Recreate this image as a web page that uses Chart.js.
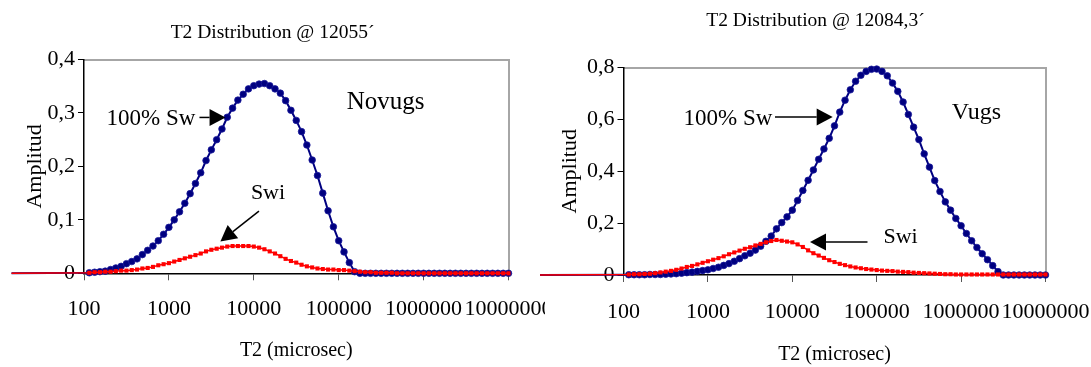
<!DOCTYPE html>
<html>
<head>
<meta charset="utf-8">
<script src="https://cdn.jsdelivr.net/npm/chart.js@4.4.1/dist/chart.umd.min.js"></script>
<style>
  html, body { margin: 0; padding: 0; background: #ffffff; }
  #wrap { position: relative; width: 1091px; height: 367px; overflow: hidden; background: #ffffff; }
  #boxL { position: absolute; left: 0; top: 0; width: 545px; height: 367px; }
  #boxR { position: absolute; left: 540px; top: 0; width: 551px; height: 367px; }
</style>
</head>
<body>
<div id="wrap">
  <div id="boxL"><canvas id="cL" width="545" height="367"></canvas></div>
  <div id="boxR"><canvas id="cR" width="551" height="367"></canvas></div>
</div>
<script>
// ---------- DATA ----------
const t2Bins = [
  115.5,133.4,154,177.8,205.4,237.1,273.8,316.2,365.2,421.7,487,562.3,649.4,749.9,866,1000,
  1155,1334,1540,1778,2054,2371,2738,3162,3652,4217,4870,5623,6494,7499,8660,10000,
  11550,13340,15400,17780,20540,23710,27380,31620,36520,42170,48700,56230,64940,74990,86600,100000,
  115500,133400,154000,177800,205400,237100,273800,316200,365200,421700,487000,562300,649400,749900,866000,1000000,
  1155000,1334000,1540000,1778000,2054000,2371000,2738000,3162000,3652000,4217000,4870000,5623000,6494000,7499000,8660000,10000000
];

const novugsSw100 = [
  0.001,0.002,0.003,0.004,0.007,0.010,0.013,0.018,0.022,0.027,0.035,0.043,0.051,0.061,0.073,0.086,
  0.100,0.115,0.131,0.149,0.168,0.188,0.211,0.231,0.250,0.270,0.292,0.309,0.324,0.335,0.345,0.351,
  0.354,0.355,0.351,0.345,0.337,0.323,0.305,0.286,0.265,0.240,0.212,0.183,0.150,0.117,0.087,0.061,
  0.040,0.020,0.003,0,0,0,0,0,0,0,0,0,0,0,0,0,
  0,0,0,0,0,0,0,0,0,0,0,0,0,0,0,0
];
const novugsSwi = [
  0.001,0.002,0.002,0.003,0.003,0.004,0.005,0.005,0.006,0.007,0.009,0.010,0.012,0.015,0.017,0.019,
  0.022,0.025,0.028,0.031,0.034,0.037,0.041,0.044,0.046,0.048,0.050,0.051,0.051,0.051,0.051,0.050,
  0.048,0.045,0.041,0.037,0.032,0.027,0.023,0.020,0.016,0.013,0.011,0.009,0.008,0.007,0.007,0.006,
  0.006,0.005,0.004,0.003,0.002,0.002,0.001,0.001,0.001,0.001,0,0,0,0,0,0,
  0,0,0,0,0,0,0,0,0,0,0,0,0,0,0,0
];
const vugsSw100 = [
  0.001,0.001,0.001,0.001,0.002,0.002,0.002,0.003,0.004,0.005,0.007,0.009,0.011,0.014,0.017,0.020,
  0.025,0.030,0.037,0.044,0.053,0.063,0.074,0.084,0.096,0.111,0.130,0.150,0.178,0.202,0.224,0.250,
  0.287,0.326,0.365,0.405,0.446,0.486,0.527,0.575,0.628,0.674,0.714,0.747,0.770,0.785,0.793,0.794,
  0.785,0.768,0.740,0.708,0.667,0.619,0.570,0.522,0.467,0.416,0.364,0.322,0.282,0.250,0.218,0.190,
  0.160,0.132,0.106,0.082,0.059,0.036,0.013,0,0,0,0,0,0,0,0,0
];
const vugsSwi = [
  0.002,0.003,0.003,0.004,0.005,0.007,0.010,0.013,0.016,0.020,0.025,0.031,0.035,0.041,0.047,0.053,
  0.059,0.065,0.072,0.080,0.087,0.094,0.101,0.107,0.114,0.120,0.126,0.131,0.135,0.132,0.129,0.126,
  0.118,0.108,0.095,0.084,0.075,0.066,0.057,0.050,0.043,0.038,0.033,0.029,0.026,0.023,0.021,0.019,
  0.017,0.016,0.015,0.013,0.012,0.011,0.009,0.008,0.007,0.006,0.005,0.004,0.003,0.003,0.002,0.002,
  0.002,0.002,0.002,0.002,0.002,0.002,0.002,0.002,0.002,0.002,0.002,0.002,0.002,0.002,0.002,0.002
];

// baseline lead-in point (T2 below the axis start, amplitude 0)
const leadT2Left = 14;
const leadT2Right = 10;

const xTickValues = [100, 1000, 10000, 100000, 1000000, 10000000];
const xTickLabels = ['100', '1000', '10000', '100000', '1000000', '10000000'];
const yTickValuesLeft = [0, 0.1, 0.2, 0.3, 0.4];
const yTickLabelsLeft = ['0', '0,1', '0,2', '0,3', '0,4'];
const yTickValuesRight = [0, 0.2, 0.4, 0.6, 0.8];
const yTickLabelsRight = ['0', '0,2', '0,4', '0,6', '0,8'];

const titleLeft = 'T2 Distribution @ 12055\u00B4';
const titleRight = 'T2 Distribution @ 12084,3\u00B4';
const xTitle = 'T2 (microsec)';
const yTitle = 'Amplitud';

// ---------- RENDERING ----------
const SERIF = "'Liberation Serif', 'Times New Roman', serif";

function series(lead, xs, ys) {
  const pts = [{ x: lead, y: 0 }];
  for (let i = 0; i < xs.length; i++) pts.push({ x: xs[i], y: ys[i] });
  return pts;
}

const annotPlugin = {
  id: 'annot',
  afterDatasetsDraw(chart, args, opts) {
    const { ctx } = chart;
    const x = chart.scales.x, y = chart.scales.y;
    ctx.save();
    ctx.fillStyle = '#000';
    ctx.strokeStyle = '#000';
    ctx.textAlign = 'center';
    ctx.textBaseline = 'middle';
    for (const t of opts.texts || []) {
      ctx.font = t.size + 'px ' + SERIF;
      ctx.fillText(t.text, x.getPixelForValue(t.x), y.getPixelForValue(t.y));
    }
    for (const a of opts.arrows || []) {
      const x1 = x.getPixelForValue(a.from[0]), y1 = y.getPixelForValue(a.from[1]);
      const x2 = x.getPixelForValue(a.to[0]), y2 = y.getPixelForValue(a.to[1]);
      const dx = x2 - x1, dy = y2 - y1, L = Math.hypot(dx, dy);
      const ux = dx / L, uy = dy / L;
      const hl = opts.headLen, hw = opts.headHalf;
      const bx = x2 - ux * hl, by = y2 - uy * hl;
      ctx.lineWidth = 1.5;
      ctx.beginPath(); ctx.moveTo(x1, y1); ctx.lineTo(bx, by); ctx.stroke();
      ctx.beginPath();
      ctx.moveTo(x2, y2);
      ctx.lineTo(bx - uy * hw, by + ux * hw);
      ctx.lineTo(bx + uy * hw, by - ux * hw);
      ctx.closePath(); ctx.fill();
    }
    ctx.restore();
  }
};

function noPad(s) { s.paddingLeft = 0; s.paddingRight = 0; s.paddingTop = 0; s.paddingBottom = 0; }

function makeChart(id, cfg) {
  return new Chart(document.getElementById(id), {
    type: 'scatter',
    data: {
      datasets: [
        {
          label: 'Swi', data: series(cfg.lead, t2Bins, cfg.swi), showLine: true, clip: false,
          borderColor: '#ff0000', backgroundColor: '#ff0000', borderWidth: 1.5,
          pointStyle: 'rect', pointRadius: c => c.dataIndex === 0 ? 0 : 2.9, pointBorderWidth: 0,
          tension: 0, order: 0
        },
        {
          label: '100% Sw', data: series(cfg.lead, t2Bins, cfg.sw100), showLine: true, clip: false,
          borderColor: '#000080', backgroundColor: '#000080', borderWidth: 2,
          pointStyle: 'circle', pointRadius: c => c.dataIndex === 0 ? 0 : 3.3, pointBorderWidth: 0.8,
          pointBorderColor: '#1a1a9a', tension: 0, order: 1
        }
      ]
    },
    options: {
      responsive: false, animation: false, events: [],
      layout: { autoPadding: false, padding: 0 },
      plugins: {
        legend: { display: false },
        tooltip: { enabled: false },
        title: {
          display: true, text: cfg.title, color: '#000',
          font: { family: SERIF, size: 19.5, weight: 'normal', lineHeight: 1.2 },
          padding: { top: cfg.titleTop, bottom: cfg.titleBottom }
        },
        annot: { texts: cfg.texts, arrows: cfg.arrows, headLen: 16, headHalf: 8.5 }
      },
      scales: {
        x: {
          type: 'logarithmic', position: 'bottom', min: 100, max: 10000000,
          afterBuildTicks: s => { s.ticks = xTickValues.map(v => ({ value: v })); },
          afterFit: s => { s.height = cfg.xAxisHeight; noPad(s); },
          ticks: {
            autoSkip: false, maxRotation: 0, minRotation: 0, color: '#000', padding: cfg.xTickPad,
            font: { family: SERIF, size: 22 },
            callback: (v, i) => xTickLabels[i]
          },
          grid: { drawOnChartArea: false, drawTicks: true, tickLength: 7, color: '#555', lineWidth: 1 },
          border: { display: true, color: '#000', width: 1.5 },
          title: {
            display: true, text: xTitle, color: '#000',
            font: { family: SERIF, size: 20, lineHeight: 1.2 },
            padding: { top: 0, bottom: cfg.xTitleBottom }
          }
        },
        xTop: {
          type: 'logarithmic', position: 'top', min: 100, max: 10000000,
          afterFit: s => { s.height = 0; noPad(s); },
          ticks: { display: false },
          grid: { display: false, drawTicks: false },
          border: { display: true, color: '#a6a6a6', width: 2 }
        },
        y: {
          type: 'linear', position: 'left', min: 0, max: cfg.yMax,
          afterBuildTicks: s => { s.ticks = cfg.yTickValues.map(v => ({ value: v })); },
          afterFit: s => { s.width = cfg.yAxisWidth; noPad(s); },
          ticks: {
            color: '#000', padding: 3, font: { family: SERIF, size: 22 },
            callback: (v, i) => cfg.yTickLabels[i]
          },
          grid: { drawOnChartArea: false, drawTicks: true, tickLength: 6, color: '#000', lineWidth: 1 },
          border: { display: true, color: '#000', width: 1.5 },
          title: {
            display: true, text: yTitle, color: '#000',
            font: { family: SERIF, size: 22, lineHeight: 1.2 },
            padding: { top: cfg.yTitleTop, bottom: 0 }
          }
        },
        yRight: {
          type: 'linear', position: 'right', min: 0, max: cfg.yMax,
          afterFit: s => { s.width = cfg.padRight; noPad(s); },
          ticks: { display: false },
          grid: { display: false, drawTicks: false },
          border: { display: true, color: '#a6a6a6', width: 2 }
        }
      }
    },
    plugins: [annotPlugin]
  });
}

makeChart('cL', {
  title: titleLeft, lead: leadT2Left, sw100: novugsSw100, swi: novugsSwi,
  yMax: 0.4, yTickValues: yTickValuesLeft, yTickLabels: yTickLabelsLeft,
  padRight: 36.5, titleTop: 21, titleBottom: 15.1, xAxisHeight: 93.7, yAxisWidth: 84,
  xTickPad: 16, xTitleBottom: 4, yTitleTop: 22,
  texts: [
    { text: 'Novugs', x: 357000, y: 0.320, size: 25 },
    { text: '100% Sw', x: 615, y: 0.288, size: 23 },
    { text: 'Swi', x: 14700, y: 0.1495, size: 22 }
  ],
  arrows: [
    { from: [2290, 0.2916], to: [4650, 0.2916] },
    { from: [11500, 0.1164], to: [4040, 0.0594] }
  ]
});

makeChart('cR', {
  title: titleRight, lead: leadT2Right, sw100: vugsSw100, swi: vugsSwi,
  yMax: 0.8, yTickValues: yTickValuesRight, yTickLabels: yTickLabelsRight,
  padRight: 45.5, titleTop: 9.6, titleBottom: 34.5, xAxisHeight: 92, yAxisWidth: 83.5,
  xTickPad: 17, xTitleBottom: 0, yTitleTop: 17,
  texts: [
    { text: 'Vugs', x: 1520000, y: 0.6245, size: 24 },
    { text: '100% Sw', x: 1730, y: 0.603, size: 23 },
    { text: 'Swi', x: 192000, y: 0.1465, size: 22 }
  ],
  arrows: [
    { from: [6240, 0.609], to: [30100, 0.609] },
    { from: [77800, 0.127], to: [16200, 0.127] }
  ]
});
</script>
</body>
</html>
